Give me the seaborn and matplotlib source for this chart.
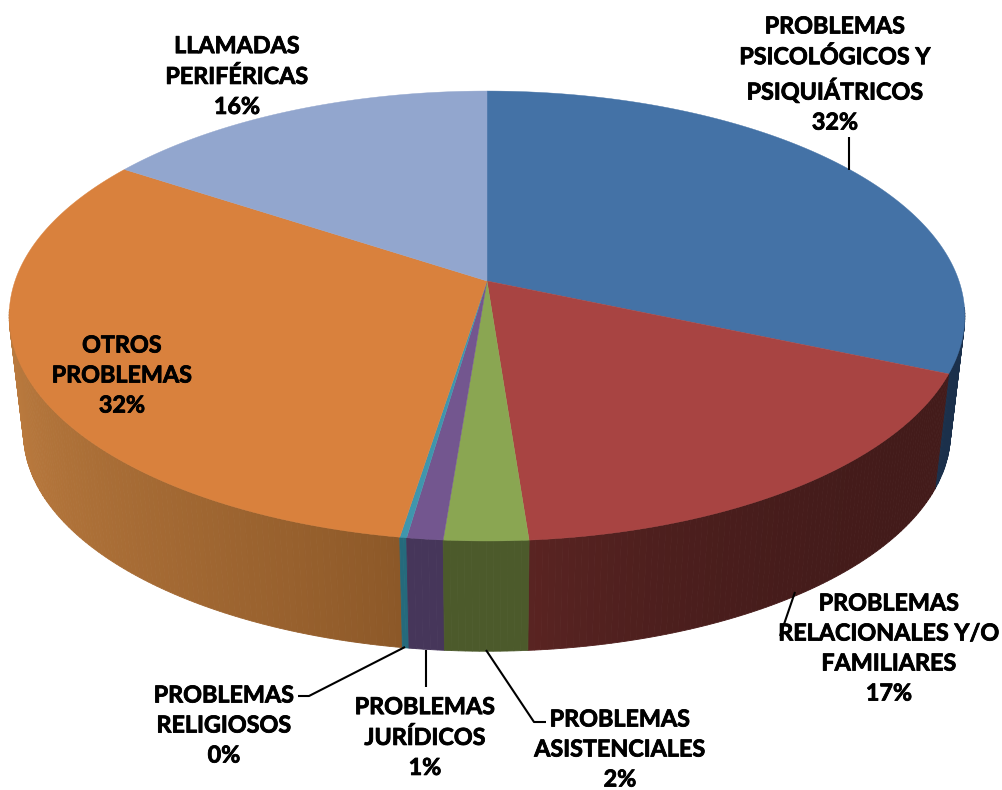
import numpy as np
import seaborn as sns
import matplotlib.pyplot as plt
import matplotlib.patheffects as pe
from matplotlib.colors import to_rgb

# values (labels show the rounded figure)
categorias = ['PROBLEMAS\nPSICOLÓGICOS Y\nPSIQUIÁTRICOS', 'PROBLEMAS\nRELACIONALES Y/O\nFAMILIARES',
              'PROBLEMAS\nASISTENCIALES', 'PROBLEMAS\nJURÍDICOS', 'PROBLEMAS\nRELIGIOSOS',
              'OTROS\nPROBLEMAS', 'LLAMADAS\nPERIFÉRICAS']
valores = [31.5, 17.3, 2.45, 1.05, 0.2, 31.8, 15.7]
etiquetas_pct = ['32%', '17%', '2%', '1%', '0%', '32%', '16%']

colores_top = ['#4472a6', '#a84442', '#8aa652', '#73568f', '#3f96ad', '#d9813d', '#92a6ce']
lado_ini = ['#1b304b', '#431b1a', '#4c5a2b', '#46365a', '#256a7c', '#8c5828', '#5d6a86']
lado_fin = ['#1b304b', '#5a2422', '#4c5a2b', '#46365a', '#256a7c', '#ba7a3e', '#5d6a86']
curva = [1, 3, 1, 1, 1, 0.8, 1]

# text anchors and leader lines, in pixels of the figure
pos_texto = [(835, 75), (889, 649), (620, 750), (425, 738), (224, 726), (122, 376), (237, 77)]
guias = [[(849, 170), (849, 137)], [(795, 592), (780, 636)],
         [(486, 650), (534, 722), (546, 722)], [(426, 650), (426, 687)],
         [(405, 647), (309, 696), (298, 696)]]

# pie projection
CX, CY = 487, 281
R, C, A = 472, -0.1556, 175.8
ESC, BOT_Y, TOP_Y = 0.97, 433, 316


def proy(theta):
    u, v = np.sin(theta), -np.cos(theta)
    d = 1 + C * v
    return CX + R * u / d, (A * v + CY) / d


def base(x, y):
    return CX + ESC * (x - CX), BOT_Y + ESC * (y - TOP_Y)


sns.set_style('white')
plt.rcParams['font.family'] = ['Lato', 'DejaVu Sans']

fig = plt.figure(figsize=(10.03, 7.9), dpi=100)
ax = fig.add_axes([0, 0, 1, 1])
ax.set_xlim(0, 1003)
ax.set_ylim(790, 0)
ax.axis('off')

fin = np.cumsum(valores) / sum(valores) * 2 * np.pi
ini = np.r_[0, fin[:-1]]
paleta = sns.color_palette(colores_top)

# side wall, drawn from the back to the front
trozos = []
for i in range(len(valores)):
    n = max(int((fin[i] - ini[i]) / 0.012), 2)
    bordes = np.linspace(ini[i], fin[i], n + 1)
    c0, c1 = np.array(to_rgb(lado_ini[i])), np.array(to_rgb(lado_fin[i]))
    for k in range(n):
        t = min(k / n * (1.75 if i == 5 else 1.0), 1) ** curva[i]
        trozos.append((bordes[k], bordes[k + 1], c0 + (c1 - c0) * t))
trozos.sort(key=lambda s: proy((s[0] + s[1]) / 2)[1])
for a, b, col in trozos:
    th = np.linspace(a, b, 3)
    x, y = proy(th)
    if y.max() < TOP_Y - 6:  # hidden behind the top face
        continue
    xb, yb = base(x, y)
    ax.fill(np.r_[x, xb[::-1]], np.r_[y, yb[::-1]], color=col, lw=0.6, zorder=1)

# top face
for i in range(len(valores)):
    th = np.linspace(ini[i], fin[i], 200)
    x, y = proy(th)
    ax.fill(np.r_[CX, x], np.r_[CY, y], color=paleta[i], lw=0.3, zorder=2)

for g in guias:
    xs, ys = zip(*g)
    ax.plot(xs, ys, color='black', lw=1.5, zorder=3, solid_capstyle='butt')

for cat, pct, (px, py) in zip(categorias, etiquetas_pct, pos_texto):
    ax.text(px, py, cat + '\n' + pct, ha='center', va='center', fontsize=16.8,
            fontweight='bold', color='black', linespacing=1.53, zorder=4,
            path_effects=[pe.withStroke(linewidth=0.6, foreground='black')])

fig.savefig('out.png', dpi=100, facecolor='white')
